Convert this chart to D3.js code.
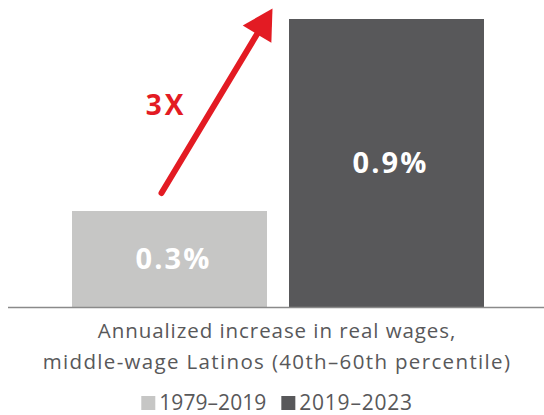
<!DOCTYPE html>
<html>
<head>
<meta charset="utf-8">
<script src="https://cdn.jsdelivr.net/npm/d3@7"></script>
<style>
  html, body { margin: 0; padding: 0; background: #fff; }
  svg { display: block; }
  text { font-family: "Open Sans", "DejaVu Sans", sans-serif; }
</style>
</head>
<body>
<div id="chart"></div>
<script>
// Annualized real wage growth, middle-wage Latinos
const periods = ["1979–2019", "2019–2023"];
const growth = [0.3, 0.9];
const valueLabels = ["0.3%", "0.9%"];
const barColors = ["#c6c6c5", "#58585a"];
const axisTitle = ["Annualized increase in real wages,", "middle-wage Latinos (40th–60th percentile)"];
const multipleLabel = "3X";

const W = 544, H = 415;
const baseY = 307, topY = 19;
const red = "#e31b23";
const textGrey = "#58585a";

const svg = d3.select("#chart").append("svg")
  .attr("width", W).attr("height", H);

// widen a text run with extra letter spacing (wide geometric face look)
function spread(sel, target) {
  sel.each(function () {
    const w = this.getComputedTextLength();
    const n = this.textContent.length;
    if (n > 1 && target > w) d3.select(this).attr("letter-spacing", (target - w) / (n - 0.5));
  });
}

const x = d3.scaleBand()
  .domain(periods)
  .range([72, 484])
  .paddingInner(0.1014)
  .paddingOuter(0);

const y = d3.scaleLinear()
  .domain([0, d3.max(growth)])
  .range([baseY, topY]);

const data = periods.map((p, i) => ({ period: p, value: growth[i], label: valueLabels[i], color: barColors[i] }));

// bars
svg.selectAll("rect.bar")
  .data(data)
  .join("rect")
  .attr("class", "bar")
  .attr("x", d => x(d.period))
  .attr("width", x.bandwidth())
  .attr("y", d => y(d.value))
  .attr("height", d => y(0) - y(d.value))
  .attr("fill", d => d.color);

// baseline
svg.append("line")
  .attr("x1", 8).attr("x2", W)
  .attr("y1", y(0) + 0.5).attr("y2", y(0) + 0.5)
  .attr("stroke", "#8a8a8a")
  .attr("stroke-width", 1.5);

// value labels centred in each bar
svg.selectAll("text.value")
  .data(data)
  .join("text")
  .attr("class", "value")
  .attr("x", d => x(d.period) + x.bandwidth() / 2 + 4)
  .attr("y", d => (y(d.value) + y(0)) / 2)
  .attr("dy", "0.36em")
  .attr("text-anchor", "middle")
  .attr("fill", "#fff")
  .attr("font-weight", 700)
  .attr("font-size", 29)
  .text(d => d.label)
  .call(spread, 75);

// growth arrow from the first bar toward the second
const start = [x(periods[0]) + x.bandwidth() / 2 - 8, y(growth[0]) - 18];
const tip = [x(periods[1]) - 16.5, y(growth[1]) - 10.5];
const dx = tip[0] - start[0], dy = tip[1] - start[1];
const len = Math.hypot(dx, dy);
const ux = dx / len, uy = dy / len;
const headLen = 30, headHalf = 16.7;
const base = [tip[0] - ux * headLen, tip[1] - uy * headLen];

svg.append("line")
  .attr("x1", start[0]).attr("y1", start[1])
  .attr("x2", base[0] + ux * 4).attr("y2", base[1] + uy * 4)
  .attr("stroke", red)
  .attr("stroke-width", 6)
  .attr("stroke-linecap", "round");

svg.append("path")
  .attr("d", d3.line()([
    tip,
    [base[0] - uy * headHalf, base[1] + ux * headHalf],
    [base[0] + uy * headHalf, base[1] - ux * headHalf]
  ]) + "Z")
  .attr("fill", red);

svg.append("text")
  .attr("x", 166)
  .attr("y", 115)
  .attr("text-anchor", "middle")
  .attr("fill", red)
  .attr("font-weight", 700)
  .attr("font-size", 28)
  .text(multipleLabel)
  .call(spread, 39);

// axis title
const titleWidths = [358, 468];
svg.append("g").selectAll("text")
  .data(axisTitle)
  .join("text")
  .attr("x", 277)
  .attr("y", (d, i) => 338 + i * 31)
  .attr("text-anchor", "middle")
  .attr("fill", textGrey)
  .attr("font-size", 20.5)
  .text(d => d)
  .each(function (d, i) { spread(d3.select(this), titleWidths[i]); });

// legend
const legend = svg.append("g");
const sw = 14, gapSwatch = 4, gapItem = 15;
const legendTextWidths = [107, 113];
let cx = 0;
data.forEach((d, i) => {
  const g = legend.append("g").attr("transform", `translate(${cx},0)`);
  g.append("rect")
    .attr("x", 0).attr("y", -14)
    .attr("width", sw).attr("height", sw)
    .attr("fill", d.color);
  const t = g.append("text")
    .attr("x", sw + gapSwatch)
    .attr("y", 0)
    .attr("fill", textGrey)
    .attr("font-size", 21)
    .text(d.period)
    .call(spread, legendTextWidths[i]);
  cx += sw + gapSwatch + t.node().getComputedTextLength() + gapItem;
});
const legendW = cx - gapItem;
legend.attr("transform", `translate(${277 - legendW / 2},410)`);
</script>
</body>
</html>
